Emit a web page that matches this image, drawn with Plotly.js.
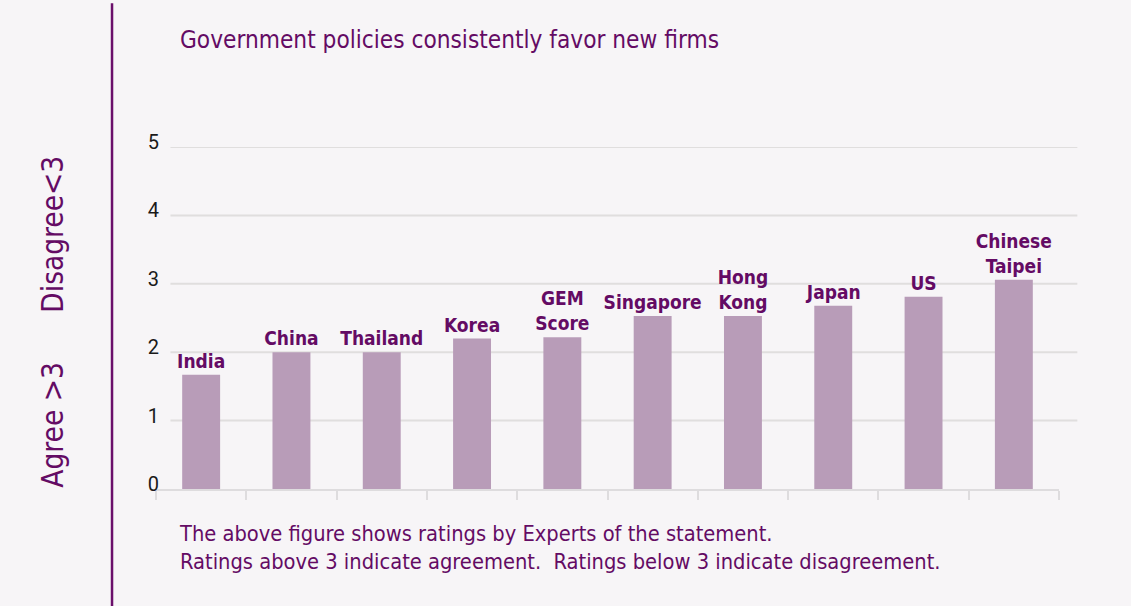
<!DOCTYPE html>
<html>
<head>
<meta charset="utf-8">
<script src="https://cdn.plot.ly/plotly-3.0.1.min.js"></script>
<style>html,body{margin:0;padding:0;background:#f7f5f7;}#chart{width:1131px;height:606px;}</style>
</head>
<body>
<div id="chart"></div>
<script>
const categories = ["India", "China", "Thailand", "Korea", "GEM Score", "Singapore", "Hong Kong", "Japan", "US", "Chinese Taipei"];
const barLabels = ["India", "China", "Thailand", "Korea", "GEM<br>Score", "Singapore", "Hong<br>Kong", "Japan", "US", "Chinese<br>Taipei"];
const ratings = [1.67, 2.0, 2.0, 2.2, 2.22, 2.53, 2.53, 2.68, 2.81, 3.06];
const yTicks = [0, 1, 2, 3, 4, 5];
const titleText = "Government policies consistently favor new firms";
const noteText = "The above figure shows ratings by Experts of the statement.<br>Ratings above 3 indicate agreement.&nbsp; Ratings below 3 indicate disagreement.";
const sideTop = "Disagree&lt;3";
const sideBottom = "Agree &gt;3";

const purple = "#640b64";
const textFont = "'DejaVu Sans Condensed', 'DejaVu Sans', sans-serif";

const gridShapes = yTicks.filter(v => v > 0).map(v => ({
  type: "line", xref: "paper", yref: "y", x0: 0.016, x1: 1.0203, y0: v, y1: v,
  line: {color: "#e0dede", width: 2}, layer: "below"
}));

const data = [{
  type: "bar",
  x: categories,
  y: ratings,
  text: barLabels,
  textposition: "outside",
  constraintext: "none",
  cliponaxis: false,
  width: 0.42,
  marker: {color: "#b89cb8"},
  outsidetextfont: {family: textFont, size: 19, color: purple, weight: "bold"},
  hoverinfo: "x+y"
}];

const layout = {
  width: 1131, height: 606,
  paper_bgcolor: "#f7f5f7", plot_bgcolor: "#f7f5f7",
  margin: {l: 156, r: 72, t: 147, b: 117},
  showlegend: false,
  title: {
    text: titleText, xref: "container", yref: "container",
    x: 180 / 1131, xanchor: "left", y: 1 - 40 / 606, yanchor: "middle",
    font: {family: textFont, size: 24.2, color: purple}
  },
  xaxis: {
    type: "category", showline: true, linecolor: "#dedcde", linewidth: 2,
    ticks: "outside", tickson: "boundaries", ticklen: 9, tickwidth: 2, tickcolor: "#dedcde",
    showticklabels: false, showgrid: false, zeroline: false, fixedrange: true
  },
  yaxis: {
    range: [0, 5], tickvals: yTicks, ticktext: yTicks.map(String),
    showgrid: false, zeroline: false, showline: false, ticks: "",
    tickfont: {family: "Roboto, sans-serif", size: 20, color: "#1a1a1a"},
    ticklabelshift: -5, ticklabelstandoff: -4, fixedrange: true
  },
  shapes: gridShapes.concat([{
    type: "line", xref: "paper", yref: "paper",
    x0: -0.0487, x1: -0.0487, y0: 1.4204, y1: -0.3438,
    line: {color: "#6b0f6b", width: 2.5}
  }]),
  annotations: [
    {text: noteText, xref: "paper", yref: "paper", x: 0.0235, xanchor: "left", y: -0.170, yanchor: "middle",
     align: "left", showarrow: false, font: {family: textFont, size: 21.7, color: purple}},
    {text: sideTop, xref: "paper", yref: "paper", x: -0.1137, y: 0.7446, xanchor: "center", yanchor: "middle",
     textangle: -90, showarrow: false, font: {family: textFont, size: 29.5, color: purple}},
    {text: sideBottom, xref: "paper", yref: "paper", x: -0.1137, y: 0.186, xanchor: "center", yanchor: "middle",
     textangle: -90, showarrow: false, font: {family: textFont, size: 29.5, color: purple}}
  ]
};

Plotly.newPlot("chart", data, layout, {displayModeBar: false, staticPlot: true});
</script>
</body>
</html>
